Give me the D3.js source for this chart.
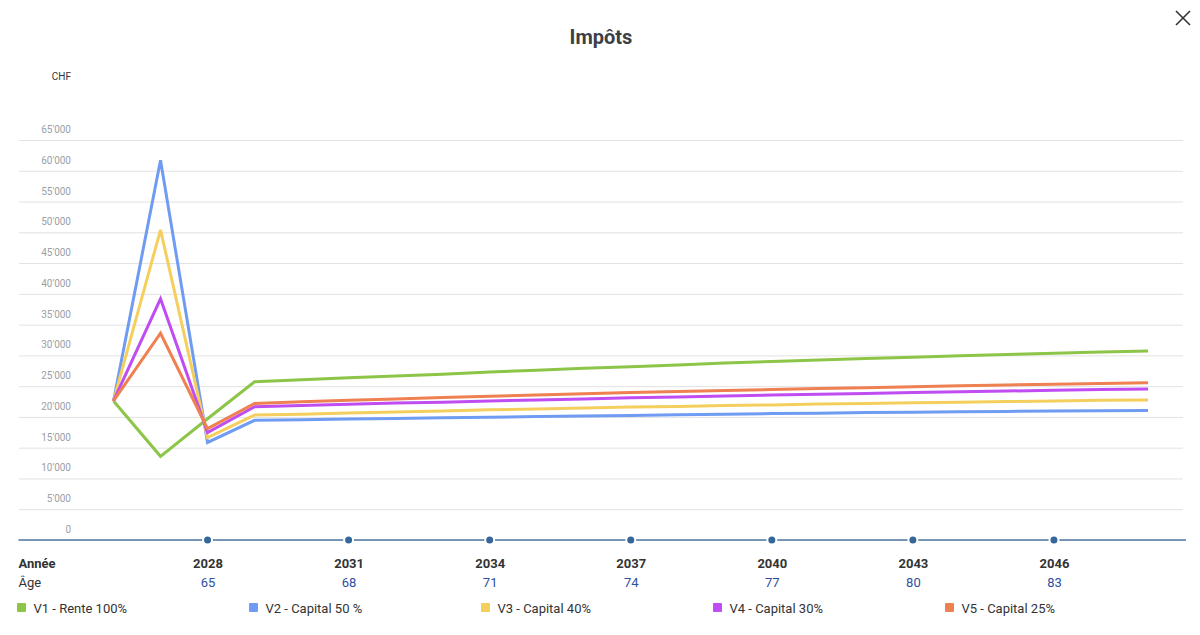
<!DOCTYPE html>
<html>
<head>
<meta charset="utf-8">
<script src="https://cdn.jsdelivr.net/npm/d3@7"></script>
<style>
  body { margin: 0; background: #fff; font-family: Roboto, "Noto Sans", sans-serif; }
  svg text { font-family: Roboto, "Noto Sans", sans-serif; }
</style>
</head>
<body>
<div id="chart"></div>
<script>
// years shown on the x axis (one point per year)
const years = [2026, 2027, 2028, 2029, 2030, 2031, 2032, 2033, 2034, 2035, 2036, 2037,
  2038, 2039, 2040, 2041, 2042, 2043, 2044, 2045, 2046, 2047, 2048];
const tickYears = [2028, 2031, 2034, 2037, 2040, 2043, 2046];
const tickAges = [65, 68, 71, 74, 77, 80, 83];
const yTicks = [0, 5000, 10000, 15000, 20000, 25000, 30000, 35000, 40000, 45000, 50000, 55000, 60000, 65000];

const seriesNames = ['V1 - Rente 100%', 'V2 - Capital 50 %', 'V3 - Capital 40%', 'V4 - Capital 30%', 'V5 - Capital 25%'];
const seriesColors = ['#8DC549', '#6F9CF2', '#F5CF5E', '#C04DF2', '#EE8052'];

const v1 = [22600, 13600, 19700, 25700, 26050, 26350, 26650, 26950, 27300, 27600, 27900, 28150,
  28450, 28750, 29000, 29250, 29500, 29700, 29950, 30150, 30350, 30550, 30700];
const v2 = [22600, 61700, 15850, 19450, 19550, 19650, 19750, 19850, 19950, 20050, 20150, 20250,
  20350, 20450, 20550, 20600, 20700, 20750, 20850, 20900, 20950, 21000, 21050];
const v3 = [22600, 50400, 16650, 20300, 20450, 20650, 20800, 20950, 21150, 21300, 21450, 21600,
  21700, 21850, 21950, 22100, 22200, 22300, 22400, 22500, 22600, 22700, 22750];
const v4 = [22600, 39200, 17450, 21650, 21850, 22050, 22250, 22400, 22600, 22750, 22900, 23100,
  23250, 23400, 23550, 23700, 23800, 23950, 24100, 24200, 24350, 24450, 24550];
const v5 = [22600, 33600, 18100, 22200, 22450, 22700, 22900, 23150, 23350, 23550, 23750, 23950,
  24150, 24300, 24450, 24600, 24750, 24900, 25050, 25200, 25300, 25450, 25550];
const seriesValues = [v1, v2, v3, v4, v5];

const width = 1200, height = 635;

const svg = d3.select('#chart')
  .append('svg')
    .attr('width', width)
    .attr('height', height);

// title + close cross
svg.append('text')
  .text('Impôts')
  .attr('x', 601)
  .attr('y', 44)
  .attr('text-anchor', 'middle')
  .attr('font-size', 20)
  .attr('font-weight', 700)
  .attr('fill', '#3b3f46');

const close = svg.append('g').attr('stroke', '#333').attr('stroke-width', 1.6);
close.append('line').attr('x1', 1176).attr('y1', 11).attr('x2', 1190).attr('y2', 25);
close.append('line').attr('x1', 1190).attr('y1', 11).attr('x2', 1176).attr('y2', 25);

const x = d3.scaleLinear().domain([2026, 2048]).range([113.5, 1148]);
const y = d3.scaleLinear().domain([0, 65000]).range([540, 140]);

const locale = d3.formatLocale({ decimal: '.', thousands: "'", grouping: [3], currency: ['', ''] });
const fmt = locale.format(',d');

// y grid + labels
const yAxis = d3.axisRight(y)
  .tickValues(yTicks)
  .tickFormat(fmt)
  .tickSize(1164);

const yg = svg.append('g')
  .attr('transform', 'translate(19,0)')
  .call(yAxis);
yg.select('.domain').remove();
yg.selectAll('.tick line').attr('stroke', '#e2e2e2').attr('stroke-width', 1);
yg.selectAll('.tick text')
  .attr('x', 52)
  .attr('dy', -7.5)
  .attr('text-anchor', 'end')
  .attr('font-size', 10)
  .attr('fill', '#9aa0a8');

svg.append('text')
  .text('CHF')
  .attr('x', 71)
  .attr('y', 80)
  .attr('text-anchor', 'end')
  .attr('font-size', 10)
  .attr('fill', '#333');

// lines
const line = d3.line()
  .x((d, i) => x(years[i]))
  .y(d => y(d));

seriesValues.forEach((vals, i) => {
  svg.append('path')
    .datum(vals)
    .attr('d', line)
    .attr('fill', 'none')
    .attr('stroke', seriesColors[i])
    .attr('stroke-width', 3);
});

// x axis line with dots
svg.append('line')
  .attr('x1', 18.5).attr('x2', 1186)
  .attr('y1', 540).attr('y2', 540)
  .attr('stroke', '#4f77a0')
  .attr('stroke-width', 1.5);

svg.selectAll('.xdot')
  .data(tickYears)
  .enter().append('circle')
    .attr('class', 'xdot')
    .attr('cx', d => x(d))
    .attr('cy', 540)
    .attr('r', 4.5)
    .attr('fill', '#36679b')
    .attr('stroke', '#fff')
    .attr('stroke-width', 2);

const xYear = d3.axisBottom(x)
  .tickValues(tickYears)
  .tickFormat(d3.format('d'))
  .tickSize(0);
const xg = svg.append('g').attr('transform', 'translate(0,540)').call(xYear);
xg.select('.domain').remove();
xg.selectAll('.tick text')
  .attr('y', 28)
  .attr('dy', 0)
  .attr('font-size', 13)
  .attr('font-weight', 700)
  .attr('fill', '#333');

const xAge = d3.axisBottom(x)
  .tickValues(tickYears)
  .tickFormat((d, i) => tickAges[i])
  .tickSize(0);
const ag = svg.append('g').attr('transform', 'translate(0,540)').call(xAge);
ag.select('.domain').remove();
ag.selectAll('.tick text')
  .attr('y', 47)
  .attr('dy', 0)
  .attr('font-size', 13)
  .attr('fill', '#2c4fa3');

svg.append('text').text('Année')
  .attr('x', 18.5).attr('y', 568)
  .attr('font-size', 13).attr('font-weight', 700).attr('fill', '#333');
svg.append('text').text('Âge')
  .attr('x', 18.5).attr('y', 587)
  .attr('font-size', 13).attr('fill', '#333');

// legend
const legend = svg.selectAll('.legend')
  .data(seriesNames)
  .enter().append('g')
    .attr('class', 'legend')
    .attr('transform', (d, i) => 'translate(' + (17 + i * 232) + ',603)');
legend.append('rect')
  .attr('width', 9).attr('height', 9).attr('rx', 1)
  .attr('fill', (d, i) => seriesColors[i]);
legend.append('text')
  .text(d => d)
  .attr('x', 16.5)
  .attr('y', 9.5)
  .attr('font-size', 13)
  .attr('fill', '#333');
</script>
</body>
</html>
